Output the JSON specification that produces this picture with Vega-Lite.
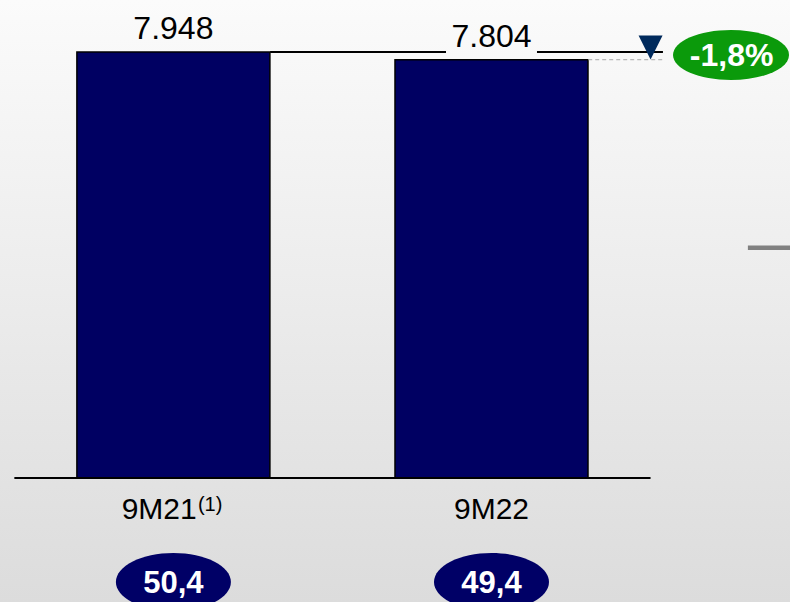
{
  "$schema": "https://vega.github.io/schema/vega-lite/v6.json",
  "width": 790,
  "height": 602,
  "autosize": {"type": "none"},
  "padding": 0,
  "background": "#ffffff",
  "config": {
    "view": {"stroke": null},
    "font": "Liberation Sans",
    "locale": {
      "number": {"decimal": ",", "thousands": ".", "grouping": [3], "currency": ["", " €"], "minus": "-"}
    }
  },
  "data": {
    "values": [
      {"period": "9M21", "slot": 0, "volume": 7948, "share": 50.4, "note": "(1)"},
      {"period": "9M22", "slot": 1, "volume": 7804, "share": 49.4}
    ]
  },
  "encoding": {
    "x": {"type": "quantitative", "scale": {"domain": [-0.5451, 1.9384], "nice": false, "zero": false, "padding": 0}, "axis": null},
    "y": {"type": "quantitative", "scale": {"domain": [-2313.5, 8918.1], "nice": false, "zero": false, "padding": 0}, "axis": null}
  },
  "layer": [
    {
      "data": {"values": [{}]},
      "mark": {
        "type": "rect",
        "fill": {
          "gradient": "linear", "x1": 0, "y1": 0, "x2": 0, "y2": 1,
          "stops": [{"offset": 0, "color": "#fbfbfb"}, {"offset": 1, "color": "#dcdcdc"}]
        }
      },
      "encoding": {"x": null, "y": null}
    },
    {
      "mark": {"type": "bar", "width": 193, "fill": "#000062", "stroke": "#000000", "strokeWidth": 1.5},
      "encoding": {
        "x": {"field": "slot"},
        "y": {"field": "volume"},
        "y2": {"datum": 0}
      }
    },
    {
      "data": {"values": [{}]},
      "mark": {"type": "rule", "color": "#000000", "strokeWidth": 2},
      "encoding": {"x": {"datum": -0.5}, "x2": {"datum": 1.5}, "y": {"datum": 0}}
    },
    {
      "data": {"values": [{}]},
      "mark": {"type": "rule", "color": "#000000", "strokeWidth": 2},
      "encoding": {"x": {"datum": 0.304}, "x2": {"datum": 0.857}, "y": {"datum": 7948}}
    },
    {
      "data": {"values": [{}]},
      "mark": {"type": "rule", "color": "#000000", "strokeWidth": 2},
      "encoding": {"x": {"datum": 1.143}, "x2": {"datum": 1.539}, "y": {"datum": 7948}}
    },
    {
      "data": {"values": [{}]},
      "mark": {"type": "rule", "color": "#a8a8a8", "strokeWidth": 1, "strokeDash": [4, 3]},
      "encoding": {"x": {"datum": 1.304}, "x2": {"datum": 1.539}, "y": {"datum": 7804}}
    },
    {
      "data": {"values": [{}]},
      "mark": {"type": "rule", "color": "#808080", "strokeWidth": 4.5},
      "encoding": {"x": {"datum": 1.806}, "x2": {"datum": 1.9384}, "y": {"datum": 4295}}
    },
    {
      "data": {"values": [{}]},
      "mark": {"type": "point", "shape": "M -1 -1 L 1 -1 L 0 1 Z", "size": 576, "filled": true, "fill": "#002a5c", "opacity": 1},
      "encoding": {"x": {"datum": 1.5}, "y": {"datum": 8030}}
    },
    {
      "data": {"values": [{"change": -0.018}]},
      "mark": {"type": "point", "shape": "M -1 0 A 1 0.431 0 1 1 1 0 A 1 0.431 0 1 1 -1 0 Z", "size": 13456, "filled": true, "fill": "#0b9a0b", "opacity": 1},
      "encoding": {"x": {"datum": 1.753}, "y": {"datum": 7892}}
    },
    {
      "data": {"values": [{"change": -0.018}]},
      "mark": {"type": "text", "font": "Liberation Sans", "fontWeight": "bold", "fontSize": 32, "color": "#ffffff", "align": "center", "baseline": "alphabetic", "dy": 11},
      "encoding": {
        "x": {"datum": 1.755},
        "y": {"datum": 7892},
        "text": {"field": "change", "type": "quantitative", "format": ".1%"}
      }
    },
    {
      "mark": {"type": "text", "fontSize": 32, "color": "#000000", "align": "center", "baseline": "alphabetic", "dy": -12.5},
      "encoding": {
        "x": {"field": "slot"},
        "y": {"field": "volume"},
        "text": {"field": "volume", "type": "quantitative", "format": ","}
      }
    },
    {
      "transform": [{"filter": "datum.period == '9M22'"}],
      "mark": {"type": "text", "fontSize": 30, "color": "#000000", "align": "center", "baseline": "alphabetic", "dy": 41},
      "encoding": {"x": {"field": "slot"}, "y": {"datum": 0}, "text": {"field": "period"}}
    },
    {
      "transform": [{"filter": "datum.period == '9M21'"}],
      "mark": {"type": "text", "fontSize": 30, "color": "#000000", "align": "right", "baseline": "alphabetic", "dy": 41, "dx": 23.3},
      "encoding": {"x": {"field": "slot"}, "y": {"datum": 0}, "text": {"field": "period"}}
    },
    {
      "transform": [{"filter": "isValid(datum.note)"}],
      "mark": {"type": "text", "fontSize": 20, "color": "#000000", "align": "left", "baseline": "alphabetic", "dy": 33, "dx": 24.5},
      "encoding": {"x": {"field": "slot"}, "y": {"datum": 0}, "text": {"field": "note"}}
    },
    {
      "mark": {"type": "point", "shape": "M -1 0 A 1 0.504 0 1 1 1 0 A 1 0.504 0 1 1 -1 0 Z", "size": 13225, "filled": true, "fill": "#000066", "opacity": 1},
      "encoding": {"x": {"field": "slot"}, "y": {"datum": -1940}}
    },
    {
      "mark": {"type": "text", "fontWeight": "bold", "fontSize": 31, "color": "#ffffff", "align": "center", "baseline": "alphabetic", "dy": 11},
      "encoding": {
        "x": {"field": "slot"},
        "y": {"datum": -1940},
        "text": {"field": "share", "type": "quantitative", "format": ".1f"}
      }
    }
  ]
}
